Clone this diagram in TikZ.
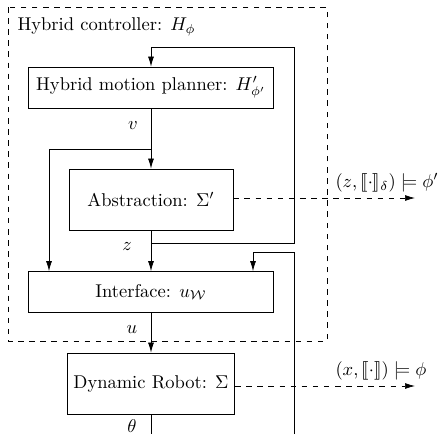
\documentclass[tikz,border=0pt]{standalone}
\usepackage{amsmath}
\usepackage{amssymb}
\usepackage{stmaryrd}
\usetikzlibrary{arrows.meta}

\begin{document}
\begin{tikzpicture}[x = 0.019cm,
                    y = -0.019cm,
                    > = {Latex[length = 5.4pt, width = 3.2pt]},
                    block/.style = {draw = black,
                                    shape = rectangle},
                    wideblock/.style = {block,
                                        minimum width = 4.655cm,
                                        minimum height = 0.78cm},
                    smallblock/.style = {block,
                                         minimum width = 3.116cm,
                                         minimum height = 1.16cm},
                    signal/.style = {inner sep = 1pt},
                    spec/.style = {anchor = west}]

	\useasboundingbox (0,0) rectangle (440,434);

	\draw[dashed] (8,7) rectangle (327,341);
	\node[anchor = west](ctrl) at (11,27){Hybrid controller: $H_\phi$};

	\node[wideblock](plan) at (151,87.5){Hybrid motion planner: $H'_{\phi'}$};
	\node[smallblock](abs) at (151,199.5){Abstraction: $\Sigma'$};
	\node[wideblock](intf) at (151,292){Interface: $u_{\mathcal{W}}$};
	\node[smallblock](rob) at (151,383.5){Dynamic Robot: $\Sigma$};

	\node[signal](v) at (133,126){$v$};
	\node[signal](z) at (127,247){$z$};
	\node[signal](u) at (132,330){$u$};
	\node[signal](theta) at (132,426){$\theta$};

	\coordinate (vsplit) at (151,149);
	\coordinate (vleft) at (49,149);
	\coordinate (zsplit) at (151,243);
	\coordinate (zright) at (294,243);
	\coordinate (ztop) at (294,47);
	\coordinate (fbin) at (294,434);
	\coordinate (fbcorner) at (294,252);
	\coordinate (fbleft) at (253,252);
	\coordinate (thetaout) at (151,434);
	\coordinate (specAend) at (415,198);
	\coordinate (specRend) at (415,386);

	\draw[->] (plan) -- (abs);
	\draw[->] (vsplit) -- (vleft) -- (vleft |- intf.north);
	\draw[->] (abs) -- (intf);
	\draw[->] (zsplit) -- (zright) -- (ztop) -- (ztop -| plan.north) -- (plan.north);
	\draw[->] (intf) -- (rob);
	\draw (rob) -- (thetaout);
	\draw[->] (fbin) -- (fbcorner) -- (fbleft) -- (fbleft |- intf.north);

	\draw[dashed, ->] (abs.east |- specAend) -- (specAend);
	\draw[dashed, ->] (rob.east |- specRend) -- (specRend);

	\node[spec](specz) at (329,183){$(z, \llbracket\cdot\rrbracket_\delta) \models \phi'$};
	\node[spec](specx) at (329,371){$(x, \llbracket\cdot\rrbracket) \models \phi$};

\end{tikzpicture}
\end{document}
